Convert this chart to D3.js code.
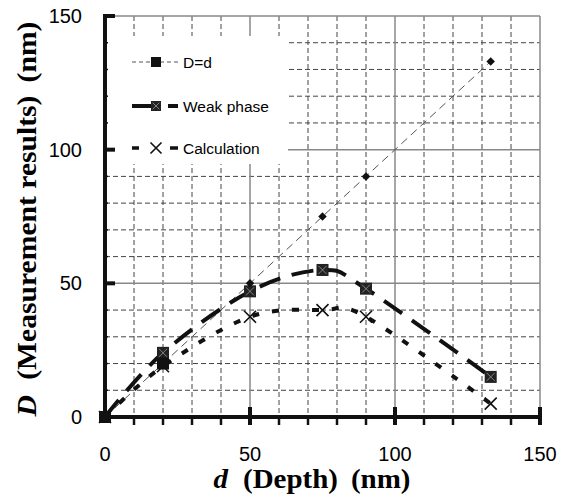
<!DOCTYPE html>
<html>
<head>
<meta charset="utf-8">
<script src="https://cdn.jsdelivr.net/npm/d3@7"></script>
<style>
  body { margin: 0; background: #fff; }
  svg { display: block; }
</style>
</head>
<body>
<div id="chart"></div>
<script>
var figw = 562
var figh = 498

// data
var depth = [0, 20, 50, 75, 90, 133]
var measuredDd = [0, 20, 50, 75, 90, 133]
var weakPhase = [0, 24, 47, 55, 48, 15]
var calculation = [0, 19, 37.5, 40, 37.5, 5]
var seriesNames = ["D=d", "Weak phase", "Calculation"]
var xTicks = [0, 50, 100, 150]
var yTicks = [0, 50, 100, 150]

var margin = {top: 16, right: 22, bottom: 81, left: 105},
    width = figw - margin.left - margin.right,
    height = figh - margin.top - margin.bottom;

var svg = d3.select("#chart")
  .append("svg")
    .attr("width", figw)
    .attr("height", figh)
  .append("g")
    .attr("transform", "translate(" + margin.left + "," + margin.top + ")");

var x = d3.scaleLinear().domain([0, 150]).range([0, width])
var y = d3.scaleLinear().domain([0, 150]).range([height, 0])

// grid, minor dashed every 10, solid every 50
var minor = d3.range(10, 150, 10).filter(function(v) { return v % 50 != 0 })
var major = [50, 100, 150]
var grid = svg.append("g")
grid.selectAll(".vmin").data(minor).enter().append("line")
  .attr("x1", x).attr("x2", x).attr("y1", 0).attr("y2", height)
  .attr("stroke", "#444").attr("stroke-width", 1).attr("stroke-dasharray", "5,3")
grid.selectAll(".hmin").data(minor).enter().append("line")
  .attr("y1", y).attr("y2", y).attr("x1", 0).attr("x2", width)
  .attr("stroke", "#444").attr("stroke-width", 1).attr("stroke-dasharray", "5,3")
grid.selectAll(".vmaj").data(major).enter().append("line")
  .attr("x1", x).attr("x2", x).attr("y1", 0).attr("y2", height)
  .attr("stroke", "#888").attr("stroke-width", 1.5)
grid.selectAll(".hmaj").data(major).enter().append("line")
  .attr("y1", y).attr("y2", y).attr("x1", 0).attr("x2", width)
  .attr("stroke", "#888").attr("stroke-width", 1.5)

// legend background hides the grid
var lg = svg.append("g")
lg.append("rect")
  .attr("x", 2).attr("y", 20).attr("width", 181).attr("height", 128)
  .attr("fill", "#fff")

// axes
var xAxis = svg.append("g").attr("transform", "translate(0," + height + ")")
xAxis.append("line").attr("x1", -2).attr("x2", width + 2)
  .attr("stroke", "#111").attr("stroke-width", 4)
xAxis.selectAll(".tk").data(d3.range(10, 151, 10)).enter().append("line")
  .attr("x1", x).attr("x2", x)
  .attr("y1", function(d) { return d % 50 == 0 ? -10 : 0 })
  .attr("y2", 8)
  .attr("stroke", "#111").attr("stroke-width", function(d) { return d % 50 == 0 ? 4 : 2.5 })
xAxis.selectAll(".lb").data(xTicks).enter().append("text")
  .attr("x", x).attr("y", 44)
  .attr("text-anchor", "middle")
  .attr("font-family", "Liberation Sans, Arial, sans-serif")
  .attr("font-size", 20)
  .text(function(d) { return d })

var yAxis = svg.append("g")
yAxis.append("line").attr("y1", -2).attr("y2", height + 2)
  .attr("stroke", "#111").attr("stroke-width", 4)
yAxis.selectAll(".tk").data(d3.range(10, 141, 10)).enter().append("line")
  .attr("y1", y).attr("y2", y)
  .attr("x1", 0)
  .attr("x2", function(d) { return d % 50 == 0 ? 10 : 3 })
  .attr("stroke", "#111").attr("stroke-width", function(d) { return d % 50 == 0 ? 4 : 1.5 })
yAxis.append("line").attr("y1", y(150)).attr("y2", y(150)).attr("x1", 0).attr("x2", 10)
  .attr("stroke", "#111").attr("stroke-width", 4)
yAxis.selectAll(".lb").data(yTicks).enter().append("text")
  .attr("x", -23).attr("y", function(d) { return y(d) + 7 })
  .attr("text-anchor", "end")
  .attr("font-family", "Liberation Sans, Arial, sans-serif")
  .attr("font-size", 20)
  .text(function(d) { return d })

// axis titles
var xt = svg.append("text")
  .attr("x", 207).attr("y", height + 71)
  .attr("text-anchor", "middle")
  .attr("font-family", "Liberation Serif, Times New Roman, serif")
  .attr("font-weight", "bold").attr("font-size", 27)
  .attr("textLength", 197).attr("lengthAdjust", "spacingAndGlyphs")
xt.append("tspan").attr("font-style", "italic").text("d")
xt.append("tspan").attr("dx", 14).text("(Depth)")
xt.append("tspan").attr("dx", 12).text("(nm)")

var yt = svg.append("text")
  .attr("transform", "translate(-69,203) rotate(-90)")
  .attr("text-anchor", "middle")
  .attr("font-family", "Liberation Serif, Times New Roman, serif")
  .attr("font-weight", "bold").attr("font-size", 27)
  .attr("textLength", 395).attr("lengthAdjust", "spacingAndGlyphs")
yt.append("tspan").attr("font-style", "italic").text("D")
yt.append("tspan").attr("dx", 14).text("(Measurement results)")
yt.append("tspan").attr("dx", 12).text("(nm)")

// series
function pts(vals) { return depth.map(function(d, i) { return [d, vals[i]] }) }
var smooth = d3.line().x(function(d) { return x(d[0]) }).y(function(d) { return y(d[1]) })
  .curve(d3.curveCardinal)
var straight = d3.line().x(function(d) { return x(d[0]) }).y(function(d) { return y(d[1]) })

svg.append("path").datum(pts(measuredDd)).attr("d", straight)
  .attr("fill", "none").attr("stroke", "#555").attr("stroke-width", 1)
  .attr("stroke-dasharray", "8,5")
svg.append("path").datum(pts(weakPhase)).attr("d", smooth)
  .attr("fill", "none").attr("stroke", "#111").attr("stroke-width", 4)
  .attr("stroke-dasharray", "22,12")
svg.append("path").datum(pts(calculation)).attr("d", smooth)
  .attr("fill", "none").attr("stroke", "#111").attr("stroke-width", 4)
  .attr("stroke-dasharray", "7,13")

function squareMark(g, cx, cy, s) {
  g.append("rect").attr("x", cx - s / 2).attr("y", cy - s / 2)
    .attr("width", s).attr("height", s).attr("fill", "#222")
  g.append("path")
    .attr("d", "M" + (cx - s / 3) + "," + (cy - s / 3) + "L" + (cx + s / 3) + "," + (cy + s / 3) +
               "M" + (cx - s / 3) + "," + (cy + s / 3) + "L" + (cx + s / 3) + "," + (cy - s / 3))
    .attr("stroke", "#999").attr("stroke-width", 0.8)
}
function crossMark(g, cx, cy, s) {
  g.append("path")
    .attr("d", "M" + (cx - s / 2) + "," + (cy - s / 2) + "L" + (cx + s / 2) + "," + (cy + s / 2) +
               "M" + (cx - s / 2) + "," + (cy + s / 2) + "L" + (cx + s / 2) + "," + (cy - s / 2))
    .attr("stroke", "#111").attr("stroke-width", 1.6)
}
function ddMark(g, cx, cy, big) {
  if (big) {
    g.append("rect").attr("x", cx - 6).attr("y", cy - 6).attr("width", 12).attr("height", 12).attr("fill", "#111")
  } else {
    g.append("rect").attr("x", -3).attr("y", -3).attr("width", 6).attr("height", 6)
      .attr("transform", "translate(" + cx + "," + cy + ") rotate(45)")
      .attr("fill", "#111")
  }
}

var marks = svg.append("g")
pts(weakPhase).forEach(function(p) { squareMark(marks, x(p[0]), y(p[1]), 12) })
pts(calculation).forEach(function(p) { crossMark(marks, x(p[0]), y(p[1]), 12) })
pts(measuredDd).forEach(function(p, i) { ddMark(marks, x(p[0]), y(p[1]), i < 2) })

// legend
var ly = [46, 90, 132]
lg.append("line").attr("x1", 27).attr("x2", 73).attr("y1", ly[0]).attr("y2", ly[0])
  .attr("stroke", "#555").attr("stroke-width", 1).attr("stroke-dasharray", "4,3")
lg.append("rect").attr("x", 46).attr("y", ly[0] - 5).attr("width", 10).attr("height", 10).attr("fill", "#111")
lg.append("line").attr("x1", 27).attr("x2", 47).attr("y1", ly[1]).attr("y2", ly[1])
  .attr("stroke", "#111").attr("stroke-width", 4)
lg.append("line").attr("x1", 63).attr("x2", 73).attr("y1", ly[1]).attr("y2", ly[1])
  .attr("stroke", "#111").attr("stroke-width", 4)
squareMark(lg, 51, ly[1], 10)
lg.append("line").attr("x1", 27).attr("x2", 34).attr("y1", ly[2]).attr("y2", ly[2])
  .attr("stroke", "#111").attr("stroke-width", 3.5)
lg.append("line").attr("x1", 65).attr("x2", 73).attr("y1", ly[2]).attr("y2", ly[2])
  .attr("stroke", "#111").attr("stroke-width", 3.5)
crossMark(lg, 51, ly[2], 11)
lg.selectAll(".lt").data(seriesNames).enter().append("text")
  .attr("x", 78).attr("y", function(d, i) { return ly[i] + 6 })
  .attr("font-family", "Liberation Sans, Arial, sans-serif")
  .attr("font-size", 15.5)
  .text(function(d) { return d })
</script>
</body>
</html>
